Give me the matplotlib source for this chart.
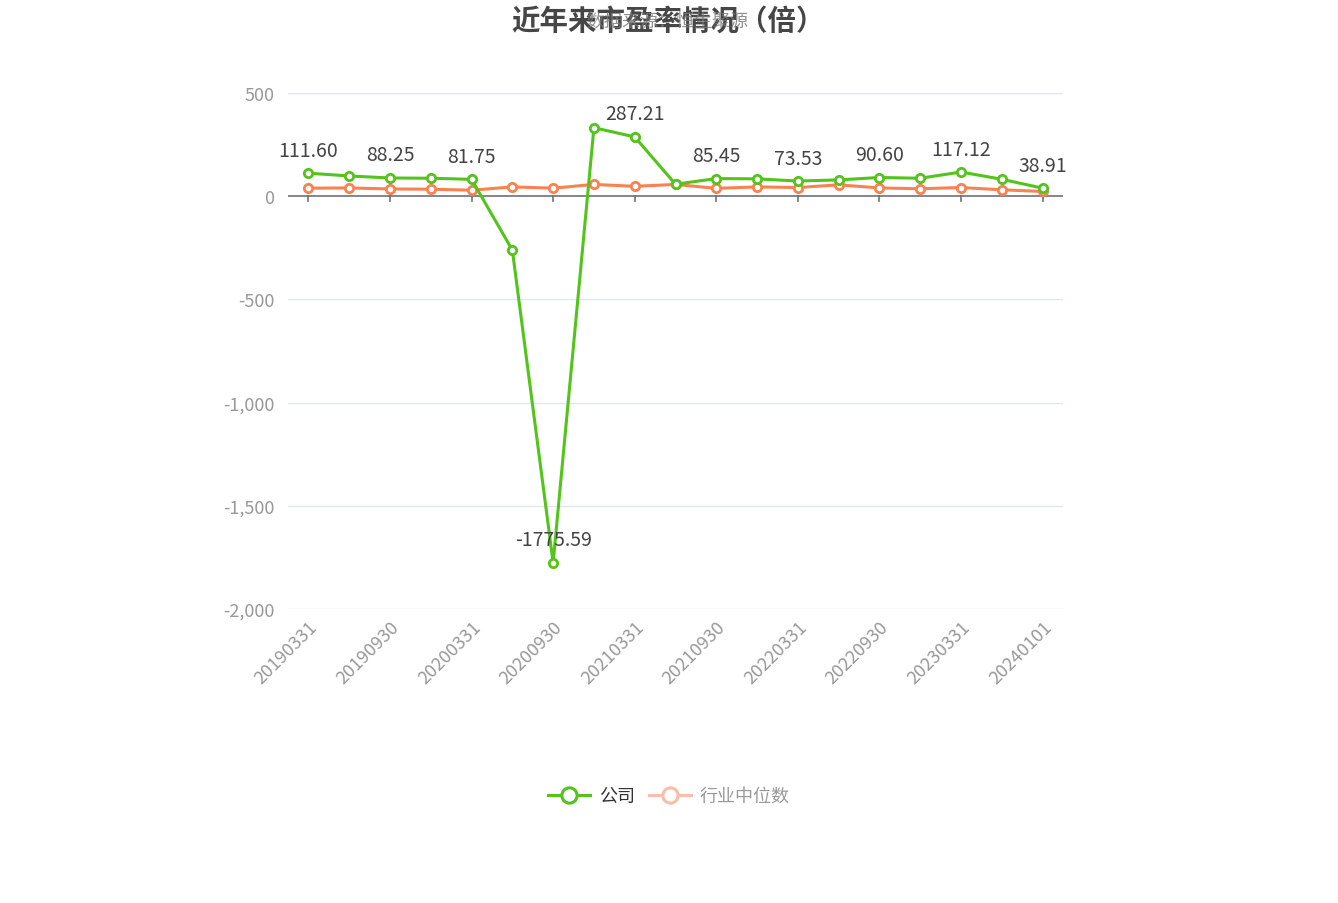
import matplotlib
matplotlib.use('Agg')
import matplotlib.pyplot as plt
from matplotlib.lines import Line2D

plt.rcParams['font.family'] = ['Noto Sans CJK SC', 'DejaVu Sans']
plt.rcParams['axes.unicode_minus'] = False

dates = ['20190331', '20190630', '20190930', '20191231', '20200331', '20200630',
         '20200930', '20201231', '20210331', '20210630', '20210930', '20211231',
         '20220331', '20220630', '20220930', '20221231', '20230331', '20230930',
         '20240101']
company = [111.60, 98, 88.25, 87, 81.75, -261, -1775.59, 332, 287.21, 58,
           85.45, 84, 73.53, 79, 90.60, 87, 117.12, 82, 38.91]
industry = [39, 40, 35, 34, 29, 45, 39, 57, 48, 57, 38, 45, 42, 55, 40, 36, 42, 31, 23]
yticks = [500, 0, -500, -1000, -1500, -2000]

green = '#52C41A'
orange = '#FA8250'

fig = plt.figure(figsize=(13.38, 9.04), dpi=100)
ax = fig.add_axes([288 / 1338, 1 - 610 / 904, (1063 - 288) / 1338, (610 - 94) / 904])

x = list(range(len(dates)))
ax.plot(x, industry, color=orange, lw=2.2, marker='o', ms=6, mfc='white', mew=2, zorder=3)
ax.plot(x, company, color=green, lw=2.2, marker='o', ms=6, mfc='white', mew=2, zorder=4)

# labels on every other point of the company line
for i in range(0, len(company), 2):
    ax.annotate('%.2f' % company[i], (i, company[i]), xytext=(0, 9),
                textcoords='offset points', ha='center', va='bottom',
                fontsize=14, color='#444444', zorder=5)

ax.set_xlim(-0.5, len(dates) - 0.5)
ax.set_ylim(-2000, 500)
ax.set_yticks(yticks)
ax.set_yticklabels(['{:,}'.format(v) for v in yticks])
ax.tick_params(axis='y', length=0, labelsize=13, labelcolor='#999999', pad=10)
for v in yticks:
    if v != 0:
        ax.axhline(v, color='#E0E6F1', lw=1, zorder=1)
ax.axhline(0, color='#6E7079', lw=1.2, zorder=2)

ax.set_xticks(x[::2])
ax.set_xticklabels(dates[::2], rotation=45, ha='right', rotation_mode='anchor')
ax.tick_params(axis='x', length=0, labelsize=13, labelcolor='#999999', pad=6)
for i in x[::2]:
    ax.plot([i, i], [0, -25], color='#6E7079', lw=1.2, zorder=2, clip_on=False)

for s in ax.spines.values():
    s.set_visible(False)

fig.text(0.4996, 1 - 22 / 904, '近年来市盈率情况（倍）', ha='center', va='center',
         fontsize=20.5, fontweight='bold', color='#464646')
fig.text(0.499, 1 - 22 / 904, '数据来源：恒生聚源', ha='center', va='center',
         fontsize=13, color='#777777', alpha=0.8)

handles = [Line2D([0], [0], color=green, lw=2.2, marker='o', ms=11, mfc='white', mew=2.2),
           Line2D([0], [0], color='#F9BEA6', lw=2.2, marker='o', ms=11, mfc='white', mew=2.2)]
leg = fig.legend(handles, ['公司', '行业中位数'], loc='center', bbox_to_anchor=(0.5, 1 - 797 / 904),
                 ncol=2, frameon=False, fontsize=13, handlelength=2.3, columnspacing=0.8,
                 handletextpad=0.5)
leg.get_texts()[0].set_color('#333333')
leg.get_texts()[1].set_color('#999999')

fig.savefig('out.png', dpi=100)
